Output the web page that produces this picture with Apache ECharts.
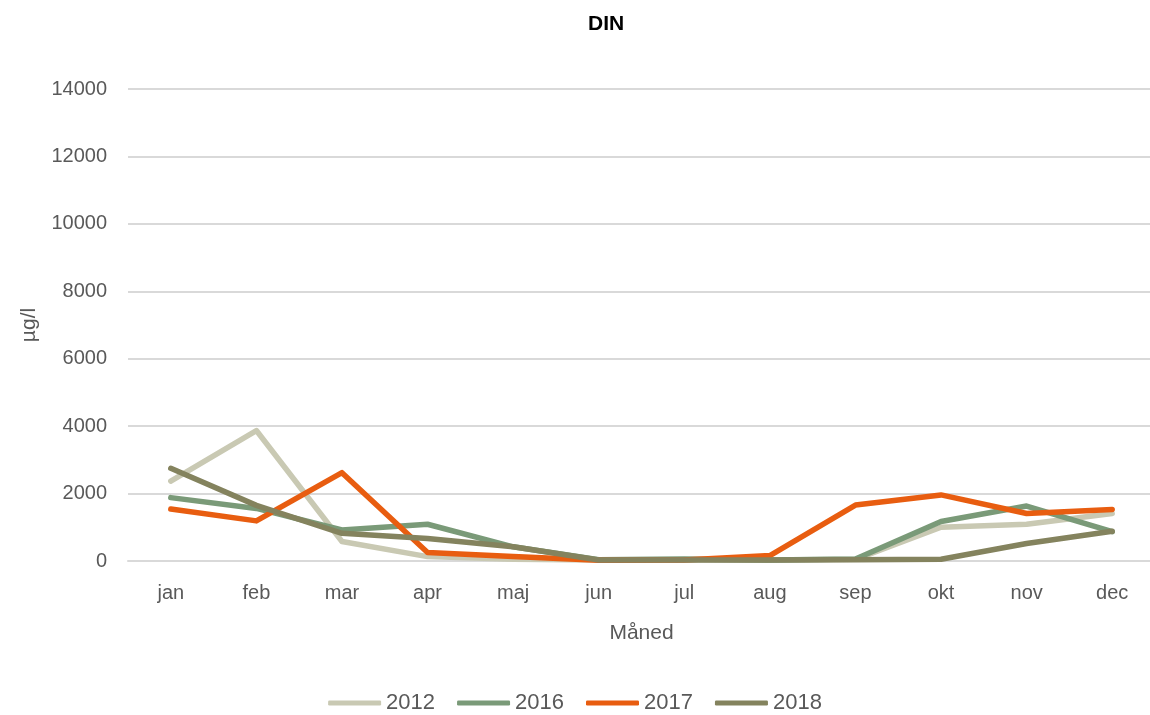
<!DOCTYPE html>
<html>
<head>
<meta charset="utf-8">
<script src="https://cdn.jsdelivr.net/npm/echarts@6/dist/echarts.min.js"></script>
<style>
  html, body { margin: 0; padding: 0; background: #fff; }
  #chart { width: 1150px; height: 715px; }
</style>
</head>
<body>
<div id="chart"></div>
<script>
// months and yearly DIN series (µg/l)
var months = ['jan', 'feb', 'mar', 'apr', 'maj', 'jun', 'jul', 'aug', 'sep', 'okt', 'nov', 'dec'];
var y2012 = [2370, 3870, 580, 130, 50, 30, 40, 30, 50, 1000, 1090, 1410];
var y2016 = [1880, 1560, 920, 1090, 420, 40, 60, 30, 60, 1170, 1630, 870];
var y2017 = [1540, 1190, 2620, 250, 130, 20, 30, 160, 1660, 1960, 1410, 1530];
var y2018 = [2750, 1650, 820, 670, 420, 30, 30, 30, 40, 50, 520, 880];

var textColor = '#595959';
var font = 'Liberation Sans';

var myChart = echarts.init(document.getElementById('chart'));

function line(name, data, color) {
  return {
    name: name,
    type: 'line',
    data: data,
    symbol: 'none',
    lineStyle: { width: 5.5, color: color, cap: 'round', join: 'round' },
    itemStyle: { color: color }
  };
}

myChart.setOption({
  animation: false,
  title: {
    text: 'DIN',
    left: 583,
    top: 9,
    textStyle: { fontFamily: font, fontSize: 21, fontWeight: 'bold', color: '#000' }
  },
  legend: {
    bottom: -4,
    left: 'center',
    itemWidth: 53,
    itemHeight: 5,
    itemGap: 22,
    icon: 'roundRect',
    textStyle: { fontFamily: font, fontSize: 22, color: textColor, padding: [0, 0, 0, 0] }
  },
  grid: { left: 128, width: 1027, top: 89, bottom: 154, outerBoundsMode: 'none' },
  xAxis: {
    type: 'category',
    data: months,
    name: 'Måned',
    nameLocation: 'middle',
    nameGap: 62,
    nameTextStyle: { fontFamily: font, fontSize: 21, color: textColor },
    axisLine: { lineStyle: { color: '#d9d9d9', width: 2 } },
    axisTick: { show: false },
    axisLabel: { fontFamily: font, fontSize: 20, color: textColor, margin: 22 }
  },
  yAxis: {
    type: 'value',
    min: 0,
    max: 14000,
    interval: 2000,
    name: 'µg/l',
    nameLocation: 'middle',
    nameGap: 88,
    nameRotate: 90,
    nameTextStyle: { fontFamily: font, fontSize: 21, color: textColor },
    axisLine: { show: false },
    axisTick: { show: false },
    splitLine: { lineStyle: { color: '#d9d9d9', width: 2 } },
    axisLabel: { fontFamily: font, fontSize: 20, color: textColor, margin: 21, formatter: function (v) { return String(v); } }
  },
  series: [
    line('2012', y2012, '#c9c9b3'),
    line('2016', y2016, '#7a9a78'),
    line('2017', y2017, '#e85d10'),
    line('2018', y2018, '#84835e')
  ]
});
</script>
</body>
</html>
